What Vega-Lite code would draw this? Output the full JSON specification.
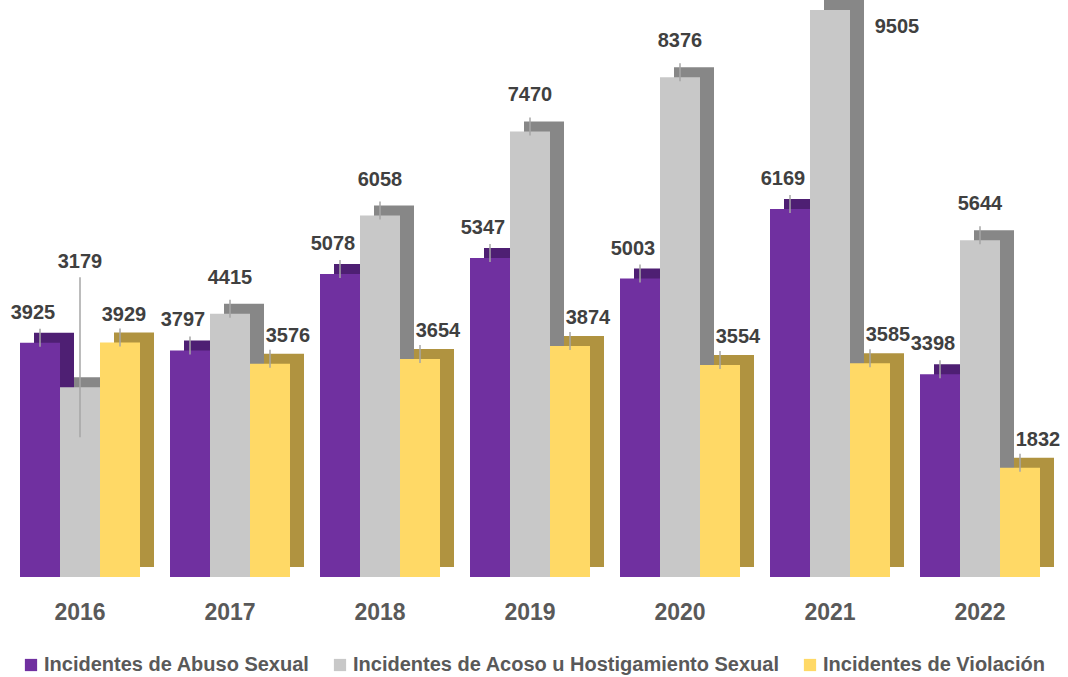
{
  "$schema": "https://vega.github.io/schema/vega-lite/v6.json",
  "width": 1050,
  "height": 567,
  "autosize": {"type": "none"},
  "padding": {"left": 5, "top": 10, "right": 13, "bottom": 100},
  "background": "white",
  "config": {"view": {"stroke": null}, "font": "Liberation Sans"},
  "data": {"values": [
    {"year": "2016", "category": "Incidentes de Abuso Sexual", "value": 3925},
    {"year": "2016", "category": "Incidentes de Acoso u Hostigamiento Sexual", "value": 3179},
    {"year": "2016", "category": "Incidentes de Violación", "value": 3929},
    {"year": "2017", "category": "Incidentes de Abuso Sexual", "value": 3797},
    {"year": "2017", "category": "Incidentes de Acoso u Hostigamiento Sexual", "value": 4415},
    {"year": "2017", "category": "Incidentes de Violación", "value": 3576},
    {"year": "2018", "category": "Incidentes de Abuso Sexual", "value": 5078},
    {"year": "2018", "category": "Incidentes de Acoso u Hostigamiento Sexual", "value": 6058},
    {"year": "2018", "category": "Incidentes de Violación", "value": 3654},
    {"year": "2019", "category": "Incidentes de Abuso Sexual", "value": 5347},
    {"year": "2019", "category": "Incidentes de Acoso u Hostigamiento Sexual", "value": 7470},
    {"year": "2019", "category": "Incidentes de Violación", "value": 3874},
    {"year": "2020", "category": "Incidentes de Abuso Sexual", "value": 5003},
    {"year": "2020", "category": "Incidentes de Acoso u Hostigamiento Sexual", "value": 8376},
    {"year": "2020", "category": "Incidentes de Violación", "value": 3554},
    {"year": "2021", "category": "Incidentes de Abuso Sexual", "value": 6169},
    {"year": "2021", "category": "Incidentes de Acoso u Hostigamiento Sexual", "value": 9505},
    {"year": "2021", "category": "Incidentes de Violación", "value": 3585},
    {"year": "2022", "category": "Incidentes de Abuso Sexual", "value": 3398},
    {"year": "2022", "category": "Incidentes de Acoso u Hostigamiento Sexual", "value": 5644},
    {"year": "2022", "category": "Incidentes de Violación", "value": 1832}
  ]},
  "encoding": {
    "x": {"field": "year", "type": "nominal", "title": null,
      "scale": {"paddingInner": 0.2, "paddingOuter": 0.1},
      "axis": {"labelAngle": 0, "domain": false, "ticks": false, "labelPadding": 24, "labelFontSize": 23, "labelFontWeight": "bold", "labelColor": "#595959", "labelFont": "Liberation Sans"}},
    "y": {"field": "value", "type": "quantitative", "scale": {"domain": [0, 9505], "nice": false}, "axis": null}
  },
  "layer": [
    {
      "mark": {"type": "bar", "yOffset": -10, "y2Offset": -4},
      "encoding": {
        "xOffset": {"field": "category", "type": "nominal", "scale": {"paddingInner": 0, "paddingOuter": 0, "range": [14, 134]}},
        "color": {"field": "category", "type": "nominal", "legend": null,
          "scale": {"range": ["#4E1F73", "#878787", "#B09340"]}}
      }
    },
    {
      "layer": [
        {
          "mark": {"type": "bar"},
          "encoding": {
            "color": {"field": "category", "type": "nominal",
              "scale": {"range": ["#7030A0", "#C8C8C8", "#FFD966"]},
              "legend": {"title": null, "orient": "none", "direction": "horizontal", "legendX": 16, "legendY": 645,
                "symbolType": "square", "symbolSize": 150, "symbolStrokeWidth": 0, "columnPadding": 20, "labelOffset": 3,
                "labelFont": "Liberation Sans", "labelFontSize": 20, "labelFontWeight": "bold", "labelColor": "#595959", "labelLimit": 600}}
          }
        },
        {
          "transform": [{"filter": "datum.value < 9000 && !(datum.year == '2016' && datum.category == 'Incidentes de Acoso u Hostigamiento Sexual')"}],
          "mark": {"type": "rule", "color": "#A6A6A6", "strokeWidth": 1.5, "yOffset": 4, "y2Offset": -14},
          "encoding": {"y2": {"field": "value"}}
        },
        {
          "transform": [{"filter": "datum.year == '2016' && datum.category == 'Incidentes de Acoso u Hostigamiento Sexual'"}],
          "mark": {"type": "rule", "color": "#A6A6A6", "strokeWidth": 1.5, "yOffset": 50, "y2Offset": -110},
          "encoding": {"y2": {"field": "value"}}
        },
        {
          "transform": [{"filter": "datum.year == '2016' && datum.category == 'Incidentes de Acoso u Hostigamiento Sexual'"}],
          "mark": {"type": "text", "dy": -125, "fontSize": 20, "fontWeight": "bold", "font": "Liberation Sans", "color": "#404040"},
          "encoding": {"text": {"field": "value", "type": "quantitative", "format": "d"}}
        },
        {
          "transform": [{"filter": "datum.category == 'Incidentes de Abuso Sexual'"}],
          "mark": {"type": "text", "dx": -7, "dy": -30, "fontSize": 20, "fontWeight": "bold", "font": "Liberation Sans", "color": "#404040"},
          "encoding": {"text": {"field": "value", "type": "quantitative", "format": "d"}}
        },
        {
          "transform": [{"filter": "datum.category == 'Incidentes de Acoso u Hostigamiento Sexual' && datum.value < 9000 && datum.year != '2016'"}],
          "mark": {"type": "text", "dx": 0, "dy": -36, "fontSize": 20, "fontWeight": "bold", "font": "Liberation Sans", "color": "#404040"},
          "encoding": {"text": {"field": "value", "type": "quantitative", "format": "d"}}
        },
        {
          "transform": [{"filter": "datum.value > 9000"}],
          "mark": {"type": "text", "dx": 67, "dy": 17, "fontSize": 20, "fontWeight": "bold", "font": "Liberation Sans", "color": "#404040"},
          "encoding": {"text": {"field": "value", "type": "quantitative", "format": "d"}}
        },
        {
          "transform": [{"filter": "datum.category == 'Incidentes de Violación' && datum.year != '2016'"}],
          "mark": {"type": "text", "dx": 18, "dy": -28, "fontSize": 20, "fontWeight": "bold", "font": "Liberation Sans", "color": "#404040"},
          "encoding": {"text": {"field": "value", "type": "quantitative", "format": "d"}}
        },
        {
          "transform": [{"filter": "datum.category == 'Incidentes de Violación' && datum.year == '2016'"}],
          "mark": {"type": "text", "dx": 4, "dy": -28, "fontSize": 20, "fontWeight": "bold", "font": "Liberation Sans", "color": "#404040"},
          "encoding": {"text": {"field": "value", "type": "quantitative", "format": "d"}}
        }
      ],
      "encoding": {
        "xOffset": {"field": "category", "type": "nominal", "scale": {"paddingInner": 0, "paddingOuter": 0}}
      }
    }
  ],
  "resolve": {"scale": {"color": "independent", "xOffset": "independent"}}
}
